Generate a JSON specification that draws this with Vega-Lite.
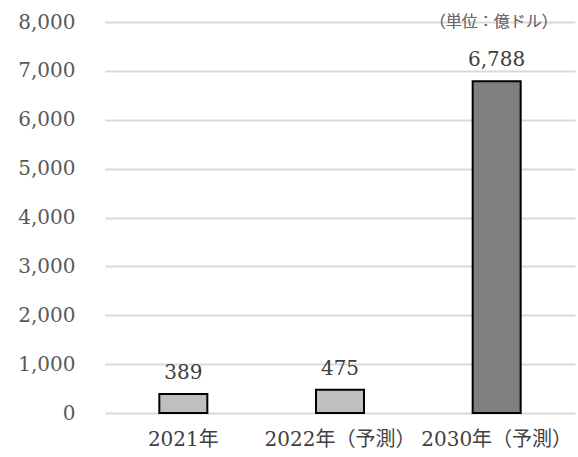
{
  "$schema": "https://vega.github.io/schema/vega-lite/v6.json",
  "width": 470,
  "height": 391,
  "autosize": {"type": "none"},
  "padding": {"left": 105, "top": 22, "right": 3, "bottom": 44},
  "background": "white",
  "config": {
    "view": {"stroke": null},
    "font": "'DejaVu Serif', 'Noto Sans CJK JP'"
  },
  "data": {
    "values": [
      {"year": "2021年", "value": 389, "type": "actual"},
      {"year": "2022年（予測）", "value": 475, "type": "actual"},
      {"year": "2030年（予測）", "value": 6788, "type": "forecast"}
    ]
  },
  "layer": [
    {
      "mark": {"type": "bar", "stroke": "black", "strokeWidth": 2, "size": 48},
      "encoding": {
        "x": {
          "field": "year", "type": "nominal", "sort": null,
          "scale": {"paddingInner": 0.69, "paddingOuter": 0.345},
          "axis": {
            "title": null, "labelAngle": 0, "domain": false, "ticks": false,
            "labelFont": "'DejaVu Serif', 'Noto Sans CJK JP'", "labelFontWeight": "normal",
            "labelFontSize": 20, "labelColor": "#404040", "labelPadding": 16
          }
        },
        "y": {
          "field": "value", "type": "quantitative",
          "scale": {"domain": [0, 8000]},
          "axis": {
            "title": null, "values": [0,1000,2000,3000,4000,5000,6000,7000,8000],
            "format": ",d", "domain": false, "ticks": false,
            "gridColor": "#d9d9d9", "gridWidth": 2,
            "labelFont": "'DejaVu Serif'", "labelFontSize": 20,
            "labelColor": "#595959", "labelPadding": 30
          }
        },
        "fill": {
          "field": "type", "type": "nominal",
          "scale": {"domain": ["actual", "forecast"], "range": ["#bfbfbf", "#7f7f7f"]},
          "legend": null
        }
      }
    },
    {
      "mark": {"type": "text", "baseline": "bottom", "dy": -11, "fontSize": 20, "color": "#404040", "font": "'DejaVu Serif'"},
      "encoding": {
        "x": {"field": "year", "type": "nominal", "sort": null},
        "y": {"field": "value", "type": "quantitative"},
        "text": {"field": "value", "type": "quantitative", "format": ",d"}
      }
    },
    {
      "mark": {"type": "text", "baseline": "middle", "align": "center", "fontSize": 16, "fontWeight": 300, "color": "#6b6b6b", "dx": -3, "font": "'Noto Sans CJK JP'"},
      "encoding": {
        "x": {"datum": "2030年（予測）"},
        "y": {"datum": 8000},
        "text": {"value": "（単位：億ドル）"}
      }
    }
  ]
}
